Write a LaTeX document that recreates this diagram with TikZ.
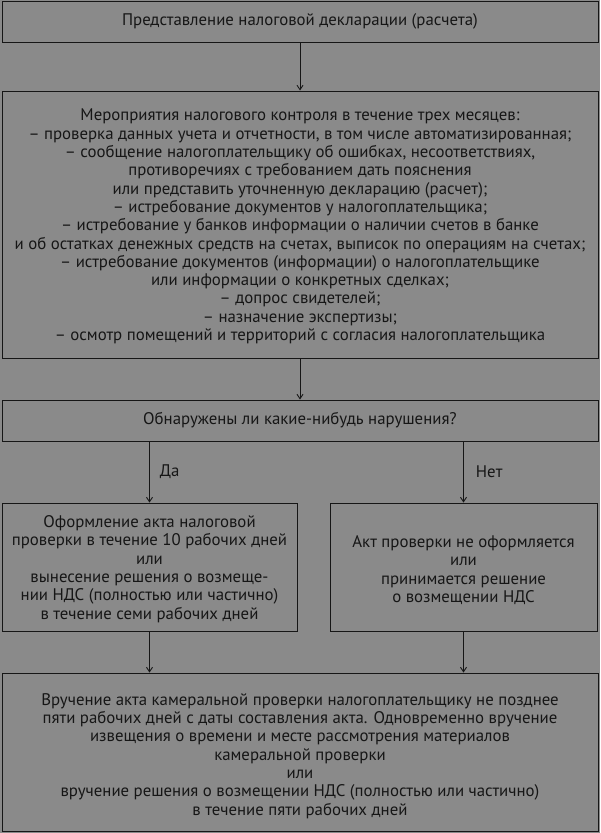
\documentclass[tikz,border=0pt]{standalone}
\usepackage{fontspec}
\setmainfont{PT Sans}
\usetikzlibrary{arrows.meta}
\definecolor{bgc}{RGB}{138,138,138}
\definecolor{ink}{RGB}{22,22,22}
\tikzset{
  box/.style={draw=ink, line width=1pt, inner sep=0pt},
  txt/.style={text=ink, align=center, inner sep=0pt,
    font=\fontsize{16.8}{18.3}\selectfont},
  conn/.style={draw=ink, line width=0.9pt, -{Straight Barb[length=4.5pt,width=6pt]}},
  lbl/.style={text=ink, font=\fontsize{16.8}{18.3}\selectfont, inner sep=0pt}
}
\begin{document}
\begin{tikzpicture}[x=1pt,y=-1pt]
\fill[bgc] (0,0) rectangle (600,833);
\useasboundingbox (0,0) rectangle (600,833);
\node[box, minimum width=596pt, minimum height=41pt] (b1) at (300,21.5) {};
\node[txt] (t1) at (b1.center) {Представление налоговой декларации (расчета)};
\node[box, minimum width=596pt, minimum height=267pt] (b2) at (300,224.5) {};
\node[txt] (t2) at ([yshift=-2pt]b2.center)
  {Мероприятия налогового контроля в течение трех месяцев:\\
   – проверка данных учета и отчетности, в том числе автоматизированная;\\
   – сообщение налогоплательщику об ошибках, несоответствиях,\\
   противоречиях с требованием дать пояснения\\
   или представить уточненную декларацию (расчет);\\
   – истребование документов у налогоплательщика;\\
   – истребование у банков информации о наличии счетов в банке\\
   и об остатках денежных средств на счетах, выписок по операциям на счетах;\\
   – истребование документов (информации) о налогоплательщике\\
   или информации о конкретных сделках;\\
   – допрос свидетелей;\\
   – назначение экспертизы;\\
   – осмотр помещений и территорий с согласия налогоплательщика};
\node[box, minimum width=596pt, minimum height=41pt] (b3) at (300,420.5) {};
\node[txt] (t3) at (b3.center) {Обнаружены ли какие-нибудь нарушения?};
\node[box, minimum width=295pt, minimum height=128pt] (b4) at (149.5,567) {};
\node[txt] (t4) at ([yshift=-2pt]b4.center)
  {Оформление акта налоговой\\
   проверки в течение 10 рабочих дней\\
   или\\
   вынесение решения о возмеще-\\
   нии НДС (полностью или частично)\\
   в течение семи рабочих дней};
\node[box, minimum width=267pt, minimum height=128pt] (b5) at (463.5,567) {};
\node[txt] (t5) at ([yshift=-3pt]b5.center)
  {Акт проверки не оформляется\\
   или\\
   принимается решение\\
   о возмещении НДС};
\node[box, minimum width=596pt, minimum height=158pt] (b6) at (300,752) {};
\node[txt] (t6) at ([yshift=-4pt]b6.center)
  {Вручение акта камеральной проверки налогоплательщику не позднее\\
   пяти рабочих дней с даты составления акта. Одновременно вручение\\
   извещения о времени и месте рассмотрения материалов\\
   камеральной проверки\\
   или\\
   вручение решения о возмещении НДС (полностью или частично)\\
   в течение пяти рабочих дней};
\draw[conn] (b1) -- (b2);
\draw[conn] (b2) -- (b3);
\draw[conn] (b4.north |- b3.south) -- node[lbl, right=10pt] (da) {Да} (b4.north);
\draw[conn] (b5.north |- b3.south) -- node[lbl, right=12pt] (net) {Нет} (b5.north);
\draw[conn] (b4.south) -- (b4.south |- b6.north);
\draw[conn] (b5.south) -- (b5.south |- b6.north);
\end{tikzpicture}
\end{document}
